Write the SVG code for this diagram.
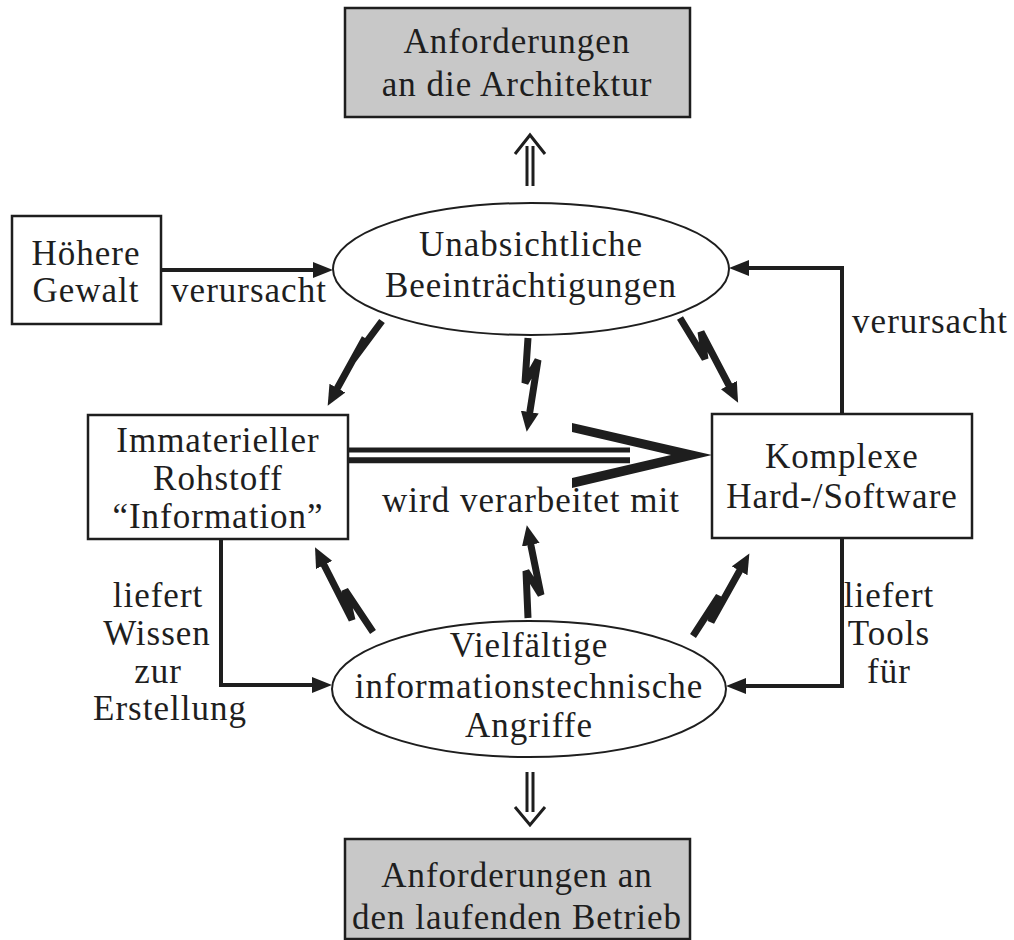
<svg xmlns="http://www.w3.org/2000/svg" width="1014" height="940" viewBox="0 0 1014 940">
<style>
text{font-family:"Liberation Serif","Times New Roman",serif;font-size:35px;fill:#1e1e1e;letter-spacing:1px;text-anchor:middle}
.box{fill:#fff;stroke:#1e1e1e;stroke-width:2.5}
.gray{fill:#c8c8c8;stroke:#1e1e1e;stroke-width:2.5}
.ell{fill:#fff;stroke:#1e1e1e;stroke-width:2}
.con{fill:none;stroke:#1e1e1e;stroke-width:4;stroke-linejoin:miter}
.bolt{fill:none;stroke:#1e1e1e;stroke-width:7;stroke-linejoin:bevel;marker-end:url(#bh)}
.dbl{fill:none;stroke:#1e1e1e;stroke-width:3}
</style>
<defs>
<marker id="ah" viewBox="0 0 20 16" markerWidth="20" markerHeight="16" refX="14" refY="8" orient="auto" markerUnits="userSpaceOnUse"><path d="M0,0 L20,8 L0,16 z" fill="#1e1e1e"/></marker>
<marker id="bh" viewBox="0 0 20 18" markerWidth="20" markerHeight="18" refX="9" refY="9" orient="auto" markerUnits="userSpaceOnUse"><path d="M0,0 L20,9 L0,18 z" fill="#1e1e1e"/></marker>
</defs>

<g id="connectors">
<path class="con" d="M161,270 H327" marker-end="url(#ah)"/>
<path class="con" d="M842,414 V268 H735" marker-end="url(#ah)"/>
<path class="con" d="M221,539 V685 H326" marker-end="url(#ah)"/>
<path class="con" d="M842,538 V686 H732" marker-end="url(#ah)"/>
<polyline class="bolt" points="382,321 353,360 365,338 333,396"/>
<polyline class="bolt" points="528,338 525,383 538,360 528.4,421"/>
<polyline class="bolt" points="680,318 705,359 701,332 733,393"/>
<polyline class="bolt" points="373,632 345,590 352,620 320,557"/>
<polyline class="bolt" points="528,618 526,571 541,595 529,536"/>
<polyline class="bolt" points="693,636 719,596 711,622 744,563"/>
<g id="up-arrow">
<line class="dbl" x1="527" y1="146" x2="527" y2="186"/>
<line class="dbl" x1="533" y1="146" x2="533" y2="186"/>
<polyline class="dbl" points="515,154 530,135 545,154"/>
</g>
<g id="down-arrow">
<line class="dbl" x1="527" y1="772" x2="527" y2="812"/>
<line class="dbl" x1="533" y1="772" x2="533" y2="812"/>
<polyline class="dbl" points="515,807 530,825 545,807"/>
</g>
<g id="big-arrow">
<line x1="348" y1="450" x2="630" y2="450" stroke="#1e1e1e" stroke-width="5"/>
<line x1="348" y1="460.3" x2="630" y2="460.3" stroke="#1e1e1e" stroke-width="6"/>
<polygon points="572,423 712,455 572,488 572,478 671,455 572,432" fill="#1e1e1e"/>
<text x="531" y="512">wird verarbeitet mit</text>
</g>
<text x="930" y="333">verursacht</text>
<text x="249" y="302">verursacht</text>
<g id="lbl-tools">
<text x="889" y="607">liefert</text>
<text x="889" y="645">Tools</text>
<text x="889" y="683">für</text>
</g>
<g id="lbl-wissen">
<text x="158" y="607">liefert</text>
<text x="157" y="645">Wissen</text>
<text x="158" y="683">zur</text>
<text x="170" y="720">Erstellung</text>
</g>
</g>

<g id="top-box">
<rect class="gray" x="345" y="8" width="345" height="109"/>
<text x="517" y="53">Anforderungen</text>
<text x="517" y="96">an die Architektur</text>
</g>
<g id="bottom-box">
<rect class="gray" x="345" y="839" width="345" height="100"/>
<text x="517" y="887">Anforderungen an</text>
<text x="517" y="929">den laufenden Betrieb</text>
</g>
<g id="hoehere-gewalt">
<rect class="box" x="12" y="216" width="149" height="108"/>
<text x="86" y="265">Höhere</text>
<text x="86" y="302">Gewalt</text>
</g>
<g id="unabsichtlich">
<ellipse class="ell" cx="531" cy="269" rx="198" ry="66"/>
<text x="531" y="256">Unabsichtliche</text>
<text x="531" y="297">Beeinträchtigungen</text>
</g>
<g id="rohstoff">
<rect class="box" x="88" y="415" width="260" height="124"/>
<text x="218" y="452">Immaterieller</text>
<text x="218" y="490">Rohstoff</text>
<text x="218" y="528">“Information”</text>
</g>
<g id="hardsoftware">
<rect class="box" x="712" y="414" width="260" height="124"/>
<text x="842" y="468">Komplexe</text>
<text x="842" y="508">Hard-/Software</text>
</g>
<g id="angriffe">
<ellipse class="ell" cx="529" cy="689" rx="197" ry="68"/>
<text x="529" y="657">Vielfältige</text>
<text x="529" y="698">informationstechnische</text>
<text x="529" y="737">Angriffe</text>
</g>
</svg>
